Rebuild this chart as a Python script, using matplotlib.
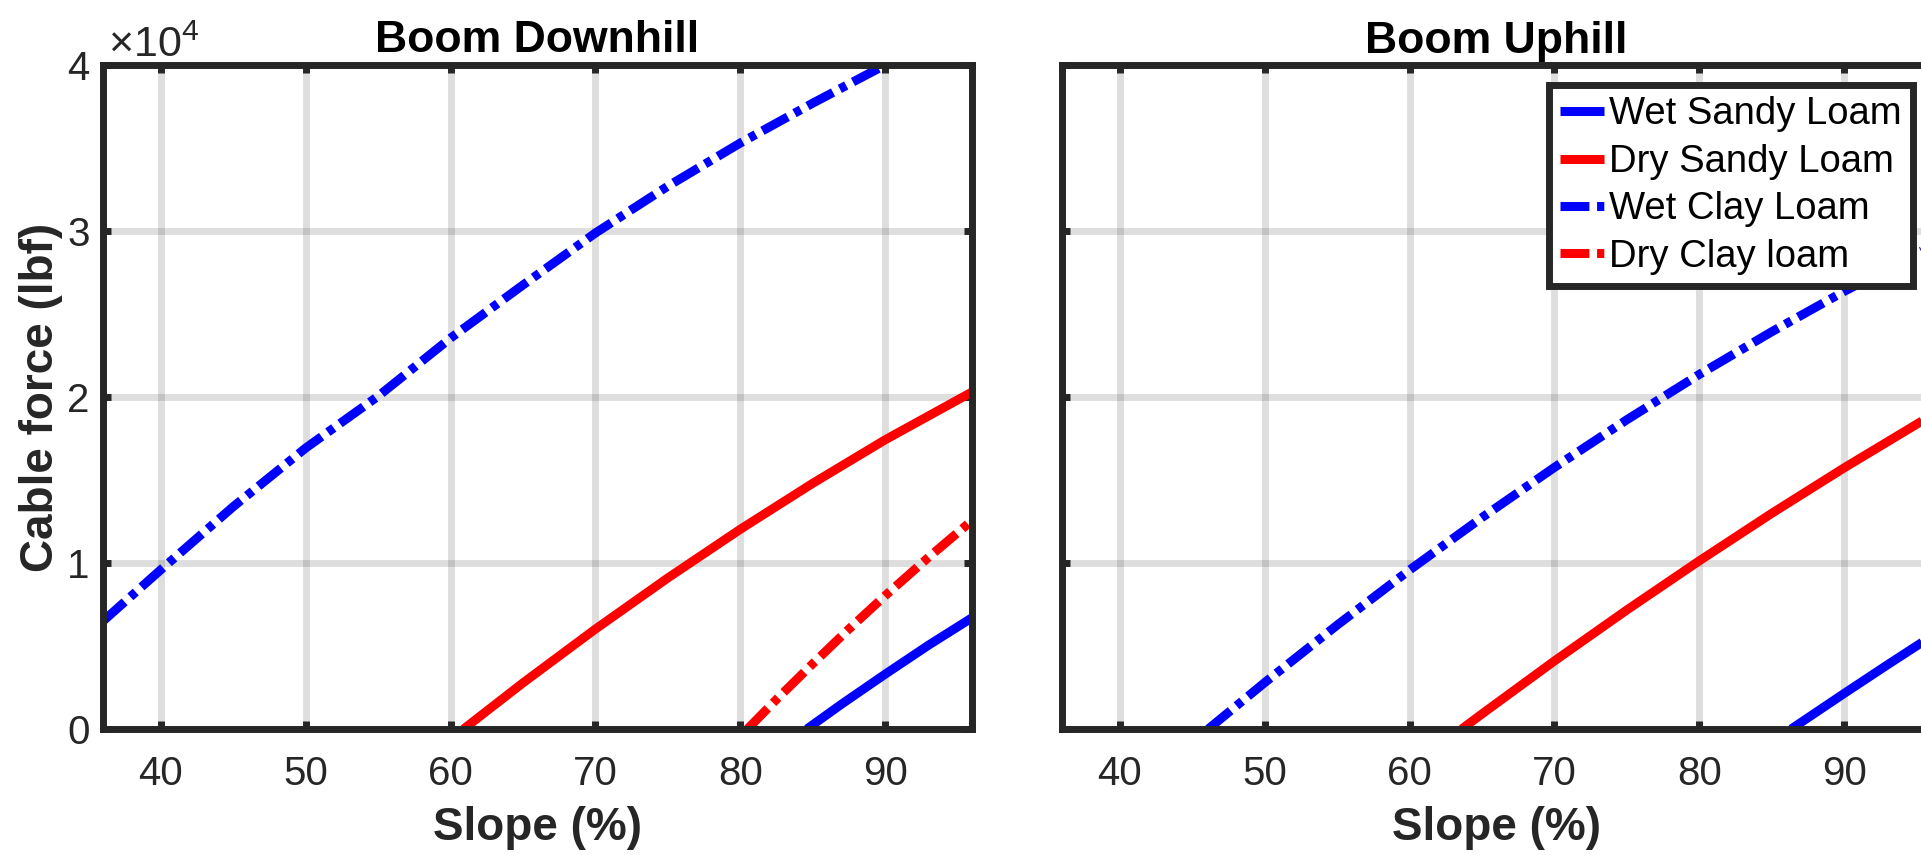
import matplotlib
matplotlib.use('Agg')
import matplotlib.pyplot as plt

plt.rcParams['font.family'] = ['Liberation Sans', 'DejaVu Sans']
plt.rcParams['lines.solid_capstyle'] = 'butt'
plt.rcParams['lines.dash_capstyle'] = 'butt'

# ---------------- data ----------------
x_ticks = [40, 50, 60, 70, 80, 90]
y_ticks = [0, 10000, 20000, 30000, 40000]
y_ticklabels = ['0', '1', '2', '3', '4']
labels = ['Wet Sandy Loam', 'Dry Sandy Loam', 'Wet Clay Loam', 'Dry Clay loam']

# Boom Downhill
down_wsl_x = [84.6, 87, 90, 93, 96]
down_wsl_y = [0, 1500, 3300, 5050, 6700]
down_dsl_x = [60.9, 65, 70, 75, 80, 85, 90, 96]
down_dsl_y = [0, 2780, 6020, 9100, 12030, 14800, 17420, 20300]
down_wcl_x = [36, 40, 45, 50, 55, 60, 65, 70, 75, 80, 85, 90, 92]
down_wcl_y = [6500, 9600, 13400, 16930, 20050, 23550, 26750, 29880, 32700, 35300, 37700, 40000, 40900]
down_dcl_x = [80.5, 82.5, 85, 87.5, 90, 93, 96]
down_dcl_y = [0, 1780, 3930, 6020, 8030, 10340, 12560]

# Boom Uphill
up_wsl_x = [86.35, 90, 93, 96]
up_wsl_y = [0, 2140, 3870, 5570]
up_dsl_x = [63.6, 65, 70, 75, 80, 85, 90, 96]
up_dsl_y = [0, 910, 4100, 7170, 10130, 12990, 15730, 18880]
up_wcl_x = [46.1, 50, 55, 60, 65, 70, 75, 80, 85, 90, 96]
up_wcl_y = [0, 2800, 6260, 9580, 12740, 15760, 18630, 21360, 23930, 26360, 29080]

# ---------------- styling ----------------
DARK = '#262626'
BLUE = (0, 0, 1)
RED = (1, 0, 0)
LW = 6.5
DASHDOT = (3.2, 0.85, 0.8, 0.85)

W, H = 1921, 855
fig = plt.figure(figsize=(W / 100, H / 100), dpi=100)
ax1 = fig.add_axes([103 / W, (H - 729) / H, 869 / W, 664 / H])
ax2 = fig.add_axes([1062 / W, (H - 729) / H, 869 / W, 664 / H])

def style(ax, title, show_ylabels):
    ax.set_xlim(36, 96)
    ax.set_ylim(0, 40000)
    ax.set_xticks(x_ticks)
    ax.set_yticks(y_ticks)
    ax.set_yticklabels(y_ticklabels)
    ax.grid(True, color=DARK, alpha=0.15, linewidth=5)
    ax.set_axisbelow(True)
    ax.tick_params(axis='both', direction='in', length=6, width=5, colors=DARK,
                   top=True, right=True, labelsize=29)
    ax.tick_params(axis='x', pad=18.5)
    ax.tick_params(axis='y', pad=9.5, labelleft=show_ylabels)
    for sp in ax.spines.values():
        sp.set_linewidth(5)
        sp.set_color(DARK)
        sp.set_capstyle('projecting')
    ax.set_xlabel('Slope (%)', fontsize=33, fontweight='bold', color=DARK)
    ax.xaxis.set_label_coords(0.5, -0.116)
    ax.set_title(title, fontsize=32, fontweight='bold', color='black', pad=9)

style(ax1, 'Boom Downhill', True)
style(ax2, 'Boom Uphill', False)

ax1.set_ylabel('Cable force (lbf)', fontsize=33, fontweight='bold', color=DARK)
ax1.yaxis.set_label_coords(-0.046, 0.5)

h1, = ax1.plot(down_wsl_x, down_wsl_y, color=BLUE, lw=LW)
h2, = ax1.plot(down_dsl_x, down_dsl_y, color=RED, lw=LW)
h3, = ax1.plot(down_wcl_x, down_wcl_y, color=BLUE, lw=LW, dashes=DASHDOT)
h4, = ax1.plot(down_dcl_x, down_dcl_y, color=RED, lw=LW, dashes=DASHDOT)

ax2.plot(up_wsl_x, up_wsl_y, color=BLUE, lw=LW)
ax2.plot(up_dsl_x, up_dsl_y, color=RED, lw=LW)
ax2.plot(up_wcl_x, up_wcl_y, color=BLUE, lw=LW, dashes=DASHDOT)

leg = ax2.legend([h1, h2, h3, h4], labels, loc='upper right',
                 bbox_to_anchor=(1913 / W, 1 - 85 / H), bbox_transform=fig.transFigure,
                 fontsize=27.5, frameon=True, fancybox=False, framealpha=1,
                 edgecolor=DARK, borderaxespad=0, handlelength=1.15,
                 handletextpad=0.13, borderpad=0.3, labelspacing=0.3)
leg.get_frame().set_linewidth(5)

fig.text(108 / W, 1 - 57 / H, r'$\mathregular{\times10^{4}}$', fontsize=31,
         color=DARK, ha='left', va='baseline')

fig.savefig('out.png', dpi=100)
